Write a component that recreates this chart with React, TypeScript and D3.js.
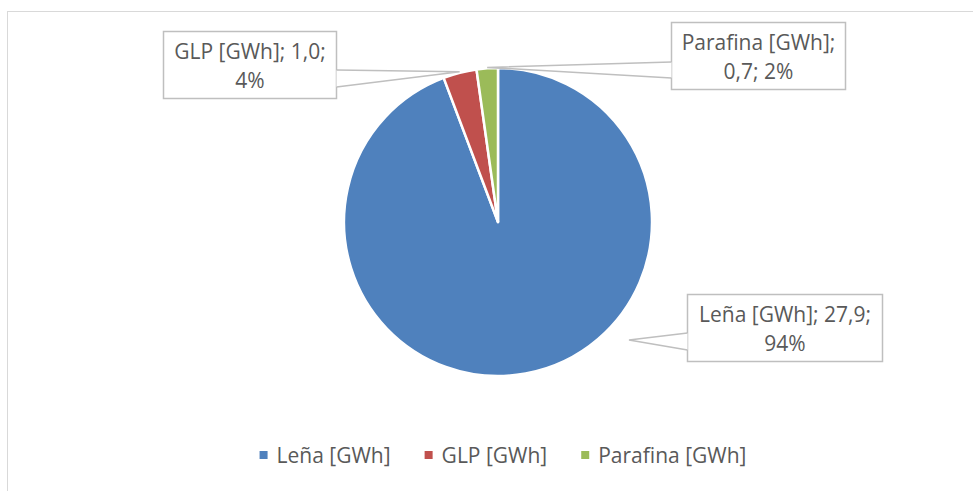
import React, { useEffect, useRef } from "react";
import * as d3 from "d3";

const categories = ["Leña [GWh]", "GLP [GWh]", "Parafina [GWh]"];
const values = [27.93, 1.04, 0.66];
const colors = ["#4F81BD", "#C0504D", "#9BBB59"];
const labelLines = [
  ["Leña [GWh]; 27,9;", "94%"],
  ["GLP [GWh]; 1,0;", "4%"],
  ["Parafina [GWh];", "0,7; 2%"],
];

const W = 973;
const H = 491;
const FONT = "'Open Sans', 'Noto Sans', sans-serif";
const FS = 21;
const TEXT = "#595959";

// layout of callout boxes (layout constants)
const boxes = [
  { x: 687, y: 294, w: 195, h: 67, apex: [629, 340], side: "left", b0: 333, b1: 350 },
  { x: 163, y: 31, w: 173, h: 67, apex: null, side: "right", b0: 70, b1: 87 },
  { x: 671, y: 22, w: 174, h: 67, apex: null, side: "left", b0: 62, b1: 78 },
];

export default function App() {
  const ref = useRef<SVGSVGElement>(null);
  useEffect(() => {
    const svg = d3.select(ref.current);
    svg.selectAll("*").remove();

    svg
      .append("rect")
      .attr("x", 7.5)
      .attr("y", 11.5)
      .attr("width", W + 20)
      .attr("height", H + 20)
      .attr("fill", "white")
      .attr("stroke", "#D9D9D9")
      .attr("stroke-width", 1);

    const cx = 498, cy = 222, r = 154;
    const pie = d3.pie<number>().sort(null).value((d) => d);
    const arcs = pie(values);
    const arc = d3.arc<d3.PieArcDatum<number>>().innerRadius(0).outerRadius(r);
    const g = svg.append("g").attr("transform", `translate(${cx},${cy})`);
    g.selectAll("path")
      .data(arcs)
      .join("path")
      .attr("d", arc as any)
      .attr("fill", (_, i) => colors[i])
      .attr("stroke", "white")
      .attr("stroke-width", 2.5)
      .attr("stroke-linejoin", "round");

    // callouts
    boxes.forEach((b, i) => {
      let apex = b.apex;
      if (!apex) {
        const a = (arcs[i].startAngle + arcs[i].endAngle) / 2;
        apex = [cx + (r + 1) * Math.sin(a), cy - (r + 1) * Math.cos(a)];
      }
      const ex = b.side === "left" ? b.x : b.x + b.w;
      const lg = svg.append("g");
      lg.append("rect")
        .attr("x", b.x + 0.5)
        .attr("y", b.y + 0.5)
        .attr("width", b.w)
        .attr("height", b.h)
        .attr("fill", "white")
        .attr("stroke", "#BFBFBF")
        .attr("stroke-width", 1.5);
      lg.append("polygon")
        .attr("points", `${ex + 0.5},${b.b0} ${apex[0]},${apex[1]} ${ex + 0.5},${b.b1}`)
        .attr("fill", "white")
        .attr("stroke", "none");
      lg.append("polyline")
        .attr("points", `${ex + 0.5},${b.b0} ${apex[0]},${apex[1]} ${ex + 0.5},${b.b1}`)
        .attr("fill", "none")
        .attr("stroke", "#BFBFBF")
        .attr("stroke-width", 1.5);
      const lines = labelLines[i];
      lines.forEach((t, k) => {
        lg.append("text")
          .attr("x", b.x + b.w / 2 + 0.5)
          .attr("y", b.y + 28 + k * 29)
          .attr("text-anchor", "middle")
          .attr("font-family", FONT)
          .attr("font-size", FS)
          .attr("fill", TEXT)
          .text(t);
      });
    });

    // legend
    const leg = svg.append("g");
    const items = categories.map((c, i) => {
      const it = leg.append("g");
      it.append("rect")
        .attr("x", 0)
        .attr("y", -12)
        .attr("width", 8)
        .attr("height", 8)
        .attr("fill", colors[i]);
      const t = it
        .append("text")
        .attr("x", 17)
        .attr("y", 0)
        .attr("font-family", FONT)
        .attr("font-size", FS)
        .attr("fill", TEXT)
        .text(c);
      const w = 17 + (t.node() as SVGTextElement).getComputedTextLength();
      return { it, w };
    });
    const gap = 34;
    const total = items.reduce((s, d) => s + d.w, 0) + gap * (items.length - 1);
    let x = 503 - total / 2;
    items.forEach((d) => {
      d.it.attr("transform", `translate(${x},463)`);
      x += d.w + gap;
    });
  }, []);
  return (
    <svg
      ref={ref}
      width={W}
      height={H}
      style={{ position: "absolute", left: 0, top: 0, display: "block" }}
    />
  );
}
